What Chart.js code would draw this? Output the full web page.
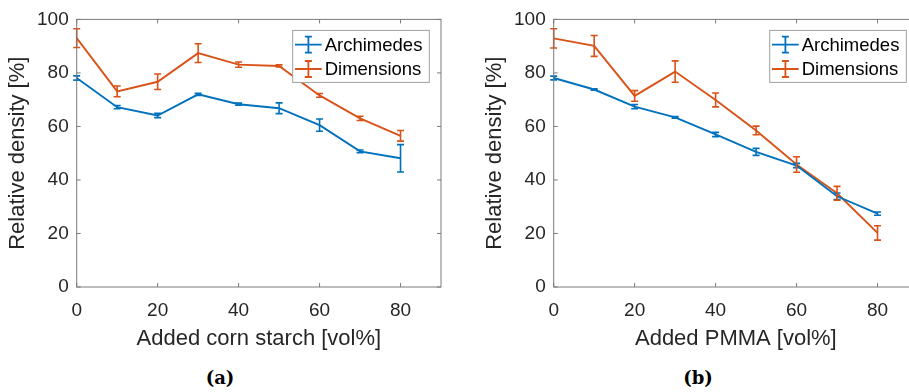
<!DOCTYPE html>
<html>
<head>
<meta charset="utf-8">
<script src="https://cdn.jsdelivr.net/npm/chart.js@4.4.1/dist/chart.umd.min.js"></script>
<style>
    html, body { margin: 0; padding: 0; background: #fff; }
    body { width: 909px; height: 392px; overflow: hidden; position: relative; }
    canvas { position: absolute; top: 0; }
    #chartA { left: 0; }
    #chartB { left: 476.6px; }
    .caption {
        position: absolute; top: 367px; width: 100px; text-align: center;
        font-family: "DejaVu Serif", serif; font-weight: bold; font-size: 18px; color: #000;
    }
</style>
</head>
<body>
<canvas id="chartA" width="450" height="360"></canvas>
<canvas id="chartB" width="450" height="360"></canvas>
<div class="caption" style="left: 170px;">(a)</div>
<div class="caption" style="left: 648px;">(b)</div>
<script>
// ==================== DATA ====================
const addedVolume = [0, 10, 20, 30, 40, 50, 60, 70, 80];
const xTicks = [0, 20, 40, 60, 80];
const yTicks = [0, 20, 40, 60, 80, 100];
const seriesNames = ['Archimedes', 'Dimensions'];

// (a) corn starch
const starchArchimedes = [78.1, 67.2, 64.1, 72.0, 68.3, 66.8, 60.5, 50.7, 48.1];
const starchArchimedesErr = [0.8, 0.6, 0.8, 0.4, 0.4, 2.0, 2.3, 0.5, 5.1];
const starchDimensions = [93.0, 73.1, 76.7, 87.4, 83.1, 82.6, 71.6, 63.0, 56.5];
const starchDimensionsErr = [3.5, 2.0, 2.9, 3.5, 1.0, 0.4, 0.7, 0.8, 2.0];

// (b) PMMA
const pmmaArchimedes = [78.1, 73.8, 67.4, 63.4, 57.0, 50.5, 45.4, 33.9, 27.4];
const pmmaArchimedesErr = [0.7, 0.3, 0.8, 0.3, 0.8, 1.3, 0.8, 1.2, 0.6];
const pmmaDimensions = [92.9, 90.1, 71.4, 80.5, 69.9, 58.5, 45.8, 35.0, 20.2];
const pmmaDimensionsErr = [3.6, 3.9, 2.0, 4.0, 2.6, 1.6, 2.9, 2.6, 2.7];

// ==================== STYLE ====================
const colors = ['#0072BD', '#D95319'];
const textColor = '#262626';
const axisColor = '#7a7a7a';
const fontFamily = '"Liberation Sans", Arial, sans-serif';

// ==================== ERROR BARS ====================
const errorBarPlugin = {
    id: 'errorBars',
    afterDatasetsDraw(chart) {
        const ctx = chart.ctx;
        const xs = chart.scales.x;
        const ys = chart.scales.y;
        chart.data.datasets.forEach(ds => {
            ctx.save();
            ctx.strokeStyle = ds.borderColor;
            ctx.lineWidth = 1.6;
            ds.data.forEach((p, i) => {
                const err = ds.errors[i];
                const px = xs.getPixelForValue(p.x);
                const top = ys.getPixelForValue(p.y + err);
                const bot = ys.getPixelForValue(p.y - err);
                ctx.beginPath();
                ctx.moveTo(px, top);
                ctx.lineTo(px, bot);
                ctx.moveTo(px - 3.5, top);
                ctx.lineTo(px + 3.5, top);
                ctx.moveTo(px - 3.5, bot);
                ctx.lineTo(px + 3.5, bot);
                ctx.stroke();
            });
            ctx.restore();
        });
    }
};

// ==================== BOX, TICKS AND LEGEND ====================
const boxPlugin = {
    id: 'matlabBox',
    afterDraw(chart) {
        const ctx = chart.ctx;
        const a = chart.chartArea;
        const xs = chart.scales.x;
        const ys = chart.scales.y;
        ctx.save();
        ctx.strokeStyle = axisColor;
        ctx.lineWidth = 1;
        ctx.strokeRect(a.left, a.top, a.right - a.left, a.bottom - a.top);
        ctx.beginPath();
        xTicks.forEach(v => {
            const px = xs.getPixelForValue(v);
            ctx.moveTo(px, a.bottom); ctx.lineTo(px, a.bottom - 4);
            ctx.moveTo(px, a.top); ctx.lineTo(px, a.top + 4);
        });
        yTicks.forEach(v => {
            const py = ys.getPixelForValue(v);
            ctx.moveTo(a.left, py); ctx.lineTo(a.left + 4, py);
            ctx.moveTo(a.right, py); ctx.lineTo(a.right - 4, py);
        });
        ctx.stroke();

        // legend
        const w = 136.6, h = 52;
        const bx = a.right - 11.7 - w;
        const by = a.top + 11;
        ctx.fillStyle = '#fff';
        ctx.fillRect(bx, by, w, h);
        ctx.strokeStyle = '#a0a0a0';
        ctx.strokeRect(bx, by, w, h);
        ctx.font = '18.5px ' + fontFamily;
        ctx.textBaseline = 'middle';
        chart.data.datasets.forEach((ds, i) => {
            const cy = by + 14.3 + i * 24.3;
            const cx = bx + 15.7;
            ctx.strokeStyle = ds.borderColor;
            ctx.lineWidth = 1.8;
            ctx.beginPath();
            ctx.moveTo(bx + 2.3, cy); ctx.lineTo(bx + 29, cy);
            ctx.moveTo(cx, cy - 8); ctx.lineTo(cx, cy + 8);
            ctx.moveTo(cx - 3.5, cy - 8); ctx.lineTo(cx + 3.5, cy - 8);
            ctx.moveTo(cx - 3.5, cy + 8); ctx.lineTo(cx + 3.5, cy + 8);
            ctx.stroke();
            ctx.fillStyle = '#000';
            ctx.fillText(ds.label, bx + 32, cy + 1);
        });
        ctx.restore();
    }
};

// ==================== BUILD CHART ====================
const makeChart = (canvasId, archVals, archErr, dimVals, dimErr, xTitle) => {
    const toPoints = vals => vals.map((v, i) => ({ x: addedVolume[i], y: v }));
    const datasets = [[archVals, archErr], [dimVals, dimErr]].map(([vals, errs], i) => ({
        label: seriesNames[i],
        data: toPoints(vals),
        errors: errs,
        borderColor: colors[i],
        borderWidth: 1.9,
        pointRadius: 0,
        tension: 0,
        fill: false
    }));

    return new Chart(document.getElementById(canvasId), {
        type: 'line',
        data: { datasets },
        options: {
            responsive: false,
            animation: false,
            devicePixelRatio: 1,
            layout: { padding: { left: 0, right: 9, top: 14.7, bottom: 0 } },
            plugins: { legend: { display: false }, tooltip: { enabled: false } },
            scales: {
                x: {
                    type: 'linear',
                    min: 0,
                    max: 90,
                    afterBuildTicks: s => { s.ticks = xTicks.map(v => ({ value: v })); },
                    afterFit: s => { s.height = 73; },
                    grid: { display: false, drawTicks: false },
                    border: { display: false },
                    ticks: {
                        color: textColor,
                        font: { family: fontFamily, size: 19 },
                        padding: 12,
                        maxRotation: 0,
                        autoSkip: false
                    },
                    title: {
                        display: true,
                        text: xTitle,
                        color: textColor,
                        font: { family: fontFamily, size: 22 },
                        padding: { top: 4, bottom: 8 }
                    }
                },
                y: {
                    type: 'linear',
                    min: 0,
                    max: 100,
                    afterBuildTicks: s => { s.ticks = yTicks.map(v => ({ value: v })); },
                    afterFit: s => { s.width = 76.7; },
                    grid: { display: false, drawTicks: false },
                    border: { display: false },
                    ticks: {
                        color: textColor,
                        font: { family: fontFamily, size: 19 },
                        padding: 8
                    },
                    title: {
                        display: true,
                        text: 'Relative density [%]',
                        color: textColor,
                        font: { family: fontFamily, size: 22 },
                        padding: { top: 5, bottom: 4 }
                    }
                }
            }
        },
        plugins: [errorBarPlugin, boxPlugin]
    });
};

makeChart('chartA', starchArchimedes, starchArchimedesErr, starchDimensions, starchDimensionsErr, 'Added corn starch [vol%]');
makeChart('chartB', pmmaArchimedes, pmmaArchimedesErr, pmmaDimensions, pmmaDimensionsErr, 'Added PMMA [vol%]');
</script>
</body>
</html>
